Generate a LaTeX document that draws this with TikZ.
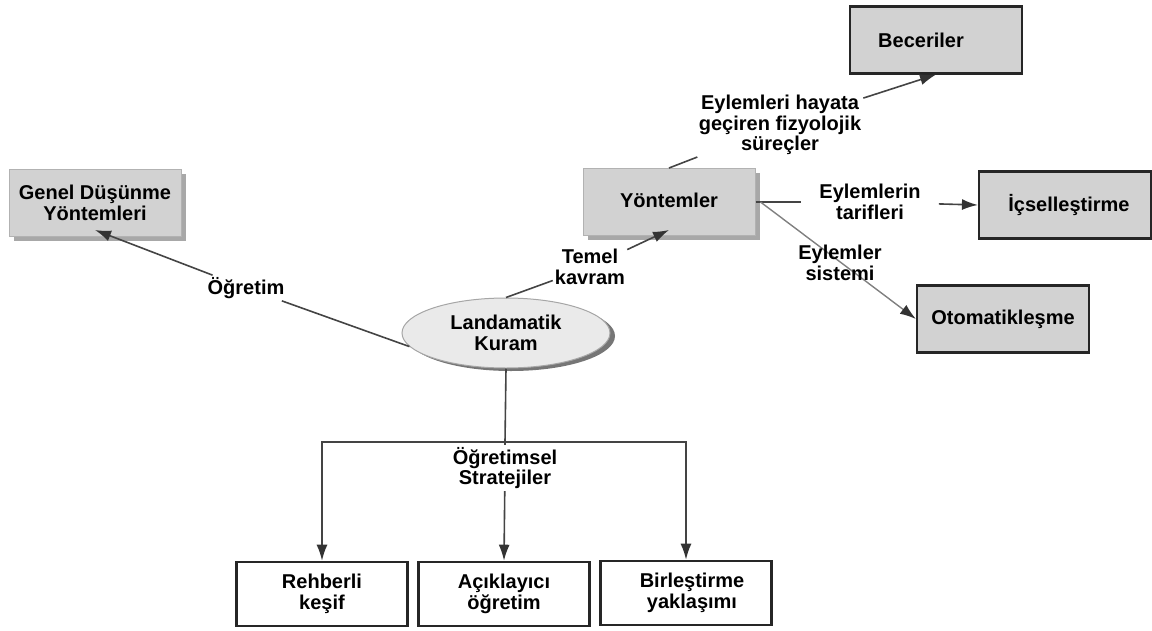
\documentclass[tikz,border=0pt]{standalone}
\usepackage{fontspec}
\setmainfont{Liberation Sans}
\usetikzlibrary{arrows.meta,shadows,shapes.geometric}
\definecolor{boxgray}{HTML}{D2D2D2}
\definecolor{lightfill}{HTML}{EAEAEA}
\definecolor{linegray}{HTML}{444444}
\definecolor{shadowgray}{HTML}{A8A8A8}
\begin{document}
\begin{tikzpicture}[x=1pt,y=-1pt,
  txt/.style={font=\fontsize{20}{20.5}\selectfont\bfseries, align=center},
  lbl/.style={txt, inner sep=2pt},
  softbox/.style={txt, draw=gray!60, line width=1pt, fill=boxgray, minimum width=172pt, minimum height=67pt,
     general shadow={fill=shadowgray, shadow xshift=5pt, shadow yshift=-4pt}},
  darkbox/.style={txt, draw=black!85, line width=2.2pt, fill=boxgray, minimum width=172pt, minimum height=67pt},
  whitebox/.style={txt, draw=black!85, line width=2.6pt, fill=white, minimum width=171pt, minimum height=64pt},
  conn/.style={draw=linegray, line width=1.6pt},
  tip/.style={-{Latex[length=16pt,width=11pt,color=black!80]}},
]
\useasboundingbox (0,0) rectangle (1152,630);

% nodes
\node[softbox] (gen) at (95,203) {Genel Düşünme\\Yöntemleri};
\node[softbox] (yon) at (669,202) {\raisebox{3pt}{Yöntemler}};
\node[darkbox] (bec) at (936,40) {\hspace*{-30pt}Beceriler};
\node[darkbox] (ice) at (1065,205) {\hspace*{8pt}\raisebox{3pt}{İçselleştirme}};
\node[darkbox] (oto) at (1003,319) {Otomatikleşme};
\node[ellipse, txt, draw=gray!70, line width=1pt, fill=lightfill, minimum width=208pt, minimum height=70pt, inner sep=0pt,
      general shadow={fill=shadowgray!70!black, shadow xshift=5pt, shadow yshift=-3pt}] (ell) at (506,333) {Landamatik\\Kuram};
\node[whitebox] (reh) at (322,594) {Rehberli\\keşif};
\node[whitebox] (acik) at (504,594) {Açıklayıcı\\öğretim};
\node[whitebox] (bir) at (686,593) {\hspace*{12pt}Birleştirme\\\hspace*{12pt}yaklaşımı};

% labels
\node[lbl] (ogr) at (246,288) {Öğretim};
\node[lbl] (tem) at (590,267) {Temel\\kavram};
\node[lbl] (eyl) at (780,125) {Eylemleri hayata\\geçiren fizyolojik\\süreçler};
\node[lbl, inner xsep=18pt] (tar) at (870,202) {Eylemlerin\\tarifleri};
\node[lbl] (str) at (505,468) {Öğretimsel\\Stratejiler};
\coordinate (hub) at (505,442);

% connectors
\draw[conn] (ell.188) -- (ogr);
\draw[conn,tip] (ogr) -- ([yshift=7pt]gen.south);
\draw[conn] (ell.north) -- (tem);
\draw[conn,tip] (tem) -- ([yshift=6pt]yon.south);
\draw[conn] (yon.north) -- (eyl);
\draw[conn,tip] (eyl) -- (bec.south);
\draw[conn] (yon.east) -- (tar);
\draw[conn,tip] (tar) -- (ice.west);
\draw[draw=gray, line width=1.4pt, tip] ([xshift=5pt]yon.east) -- (oto.west);
\node[lbl] (sis) at (840,263) {Eylemler\\sistemi};
\draw[conn] (ell.south) -- (hub);
\draw[conn,tip] (hub) -| (reh.north);
\draw[conn,tip] (hub) -| (bir.north);
\draw[conn] (hub) -- (str);
\draw[conn,tip] (str) -- (acik.north);
\end{tikzpicture}
\end{document}
